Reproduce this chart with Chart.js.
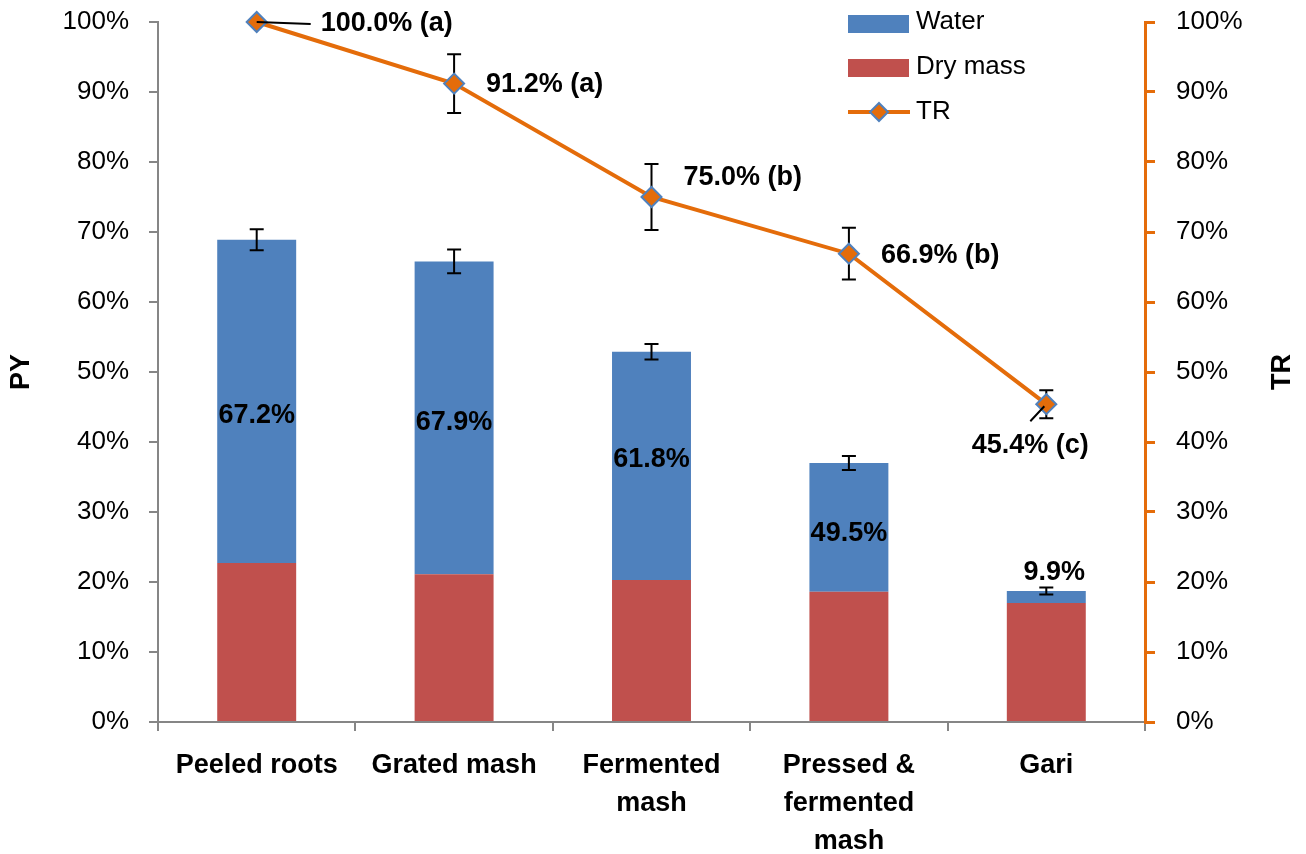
<!DOCTYPE html>
<html>
<head>
<meta charset="utf-8">
<script src="https://cdn.jsdelivr.net/npm/chart.js@4.4.0/dist/chart.umd.min.js"></script>
<style>
  body { margin:0; background:#fff; }
  #wrap { width:1306px; height:854px; }
</style>
</head>
<body>
<div id="wrap"><canvas id="chart" width="1306" height="854"></canvas></div>
<script>
/* ================= DATA ================= */
const categories = ["Peeled roots", "Grated mash", ["Fermented", "mash"], ["Pressed &", "fermented", "mash"], "Gari"];
const dryMass   = [22.7, 21.1, 20.3, 18.6, 17.0];
const water     = [46.2, 44.7, 32.6, 18.4, 1.7];
const pyError   = [1.5, 1.7, 1.1, 1.0, 0.5];
const waterText = ["67.2%", "67.9%", "61.8%", "49.5%", "9.9%"];
const trValues  = [100, 91.2, 75.0, 66.9, 45.4];
const trError   = [0, 4.2, 4.7, 3.7, 2.0];
const trLetters = ["a", "a", "b", "b", "c"];
const yTicks    = [0, 10, 20, 30, 40, 50, 60, 70, 80, 90, 100];

/* ================= STYLE ================= */
const BLUE = "#4F81BD", RED = "#C0504D", ORANGE = "#E46C0A", GREY = "#868686";
const FONT = "'Liberation Sans', Arial, sans-serif";
// label offsets in px: [dx, dy, align]
const trLabelPos = [[64, 2, "left"], [32, 1, "left"], [32, -19, "left"], [32, 2, "left"], [-16, 41, "center"]];
const waterLabelPos = [[0, 14], [0, 5], [0, -6], [0, 6]];

/* ================= PLUGINS ================= */
function errBar(ctx, x, y1, y2, cap) {
  ctx.beginPath();
  ctx.moveTo(x, y1); ctx.lineTo(x, y2);
  ctx.moveTo(x - cap, y1); ctx.lineTo(x + cap, y1);
  ctx.moveTo(x - cap, y2); ctx.lineTo(x + cap, y2);
  ctx.stroke();
}

const extras = {
  id: "extras",
  beforeDatasetDraw(chart, args) {
    if (args.index !== 2) return;
    const ctx = chart.ctx, y1 = chart.scales.y1;
    const meta = chart.getDatasetMeta(2);
    ctx.save();
    ctx.strokeStyle = "#000"; ctx.lineWidth = 2;
    trValues.forEach((v, i) => {
      if (!trError[i]) return;
      errBar(ctx, meta.data[i].x, y1.getPixelForValue(v + trError[i]), y1.getPixelForValue(v - trError[i]), 7);
    });
    ctx.restore();
  },
  afterDatasetsDraw(chart) {
    const ctx = chart.ctx, y = chart.scales.y;
    const bars = chart.getDatasetMeta(1), pts = chart.getDatasetMeta(2);
    ctx.save();
    ctx.strokeStyle = "#000"; ctx.lineWidth = 2;
    // PY error bars
    dryMass.forEach((d, i) => {
      const tot = d + water[i];
      errBar(ctx, bars.data[i].x, y.getPixelForValue(tot + pyError[i]), y.getPixelForValue(tot - pyError[i]), 7);
    });
    // water labels
    ctx.fillStyle = "#000";
    ctx.font = "bold 27px " + FONT;
    ctx.textBaseline = "middle";
    ctx.textAlign = "center";
    dryMass.forEach((d, i) => {
      const x = bars.data[i].x;
      if (i < waterLabelPos.length) {
        const mid = y.getPixelForValue(d + water[i] / 2);
        ctx.fillText(waterText[i], x + waterLabelPos[i][0], mid + waterLabelPos[i][1]);
      } else {
        ctx.fillText(waterText[i], x + 8, y.getPixelForValue(d + water[i]) - 19);
      }
    });
    // TR labels
    trValues.forEach((v, i) => {
      const p = pts.data[i];
      const [dx, dy, al] = trLabelPos[i];
      ctx.textAlign = al;
      ctx.fillText(v.toFixed(1) + "% (" + trLetters[i] + ")", p.x + dx, p.y + dy);
    });
    // leader lines
    ctx.beginPath();
    ctx.moveTo(pts.data[0].x, pts.data[0].y); ctx.lineTo(pts.data[0].x + 54, pts.data[0].y + 2);
    ctx.moveTo(pts.data[4].x - 2, pts.data[4].y + 2); ctx.lineTo(pts.data[4].x - 16, pts.data[4].y + 17);
    ctx.stroke();

    // legend
    const lx = 848;
    ctx.font = "26px " + FONT;
    ctx.textAlign = "left";
    ctx.fillStyle = BLUE; ctx.fillRect(lx, 15, 61, 18);
    ctx.fillStyle = RED; ctx.fillRect(lx, 59, 61, 18);
    ctx.strokeStyle = ORANGE; ctx.lineWidth = 4;
    ctx.beginPath(); ctx.moveTo(lx, 112); ctx.lineTo(lx + 62, 112); ctx.stroke();
    ctx.beginPath();
    ctx.moveTo(lx + 31, 103); ctx.lineTo(lx + 40, 112); ctx.lineTo(lx + 31, 121); ctx.lineTo(lx + 22, 112); ctx.closePath();
    ctx.fillStyle = ORANGE; ctx.fill();
    ctx.strokeStyle = BLUE; ctx.lineWidth = 2; ctx.stroke();
    ctx.fillStyle = "#000";
    ctx.fillText("Water", 916, 22);
    ctx.fillText("Dry mass", 916, 67);
    ctx.fillText("TR", 916, 112);

    // axis titles
    ctx.font = "bold 27px " + FONT;
    ctx.textAlign = "center";
    [["PY", 22], ["TR", 1283]].forEach(([t, x]) => {
      ctx.save();
      ctx.translate(x, 372);
      ctx.rotate(-Math.PI / 2);
      ctx.fillText(t, 0, 0);
      ctx.restore();
    });
    ctx.restore();
  }
};

function fixV(width) {
  return s => { s.width = width; s.paddingTop = 0; s.paddingBottom = 0; };
}

/* ================= CHART ================= */
new Chart(document.getElementById("chart"), {
  data: {
    labels: categories,
    datasets: [
      { type: "bar", label: "Dry mass", data: dryMass, backgroundColor: RED, stack: "py", yAxisID: "y", order: 1,
        barPercentage: 0.4, categoryPercentage: 1 },
      { type: "bar", label: "Water", data: water, backgroundColor: BLUE, stack: "py", yAxisID: "y", order: 2,
        barPercentage: 0.4, categoryPercentage: 1 },
      { type: "line", label: "TR", data: trValues, yAxisID: "y1", order: 0,
        borderColor: ORANGE, borderWidth: 4, tension: 0, clip: false,
        pointStyle: "rectRot", pointRadius: 10, pointBackgroundColor: ORANGE,
        pointBorderColor: BLUE, pointBorderWidth: 2 }
    ]
  },
  options: {
    responsive: false,
    animation: false,
    layout: { padding: { top: 22, left: 0, right: 0, bottom: 0 } },
    plugins: { legend: { display: false }, tooltip: { enabled: false } },
    scales: {
      x: {
        stacked: true,
        offset: true,
        grid: { offset: true, drawOnChartArea: false, tickLength: 9, color: GREY, lineWidth: 2 },
        border: { color: GREY, width: 2 },
        ticks: { color: "#000", font: { family: FONT, size: 27, weight: "bold", lineHeight: 1.4 }, padding: 16, maxRotation: 0 },
        afterFit: s => { s.height = 132; }
      },
      y: {
        stacked: true,
        min: 0, max: 100,
        afterBuildTicks: s => { s.ticks = yTicks.map(v => ({ value: v })); },
        grid: { drawOnChartArea: false, tickLength: 9, color: GREY, lineWidth: 2 },
        border: { color: GREY, width: 2 },
        ticks: { color: "#000", font: { family: FONT, size: 26 }, padding: 20, callback: v => v + "%" },
        afterFit: fixV(158)
      },
      y1: {
        position: "right",
        min: 0, max: 100,
        afterBuildTicks: s => { s.ticks = yTicks.map(v => ({ value: v })); },
        grid: { drawOnChartArea: false, tickLength: 10, color: ORANGE, lineWidth: 3 },
        border: { color: ORANGE, width: 3 },
        ticks: { color: "#000", font: { family: FONT, size: 26 }, padding: 21, callback: v => v + "%" },
        afterFit: fixV(161)
      }
    }
  },
  plugins: [extras]
});
</script>
</body>
</html>
